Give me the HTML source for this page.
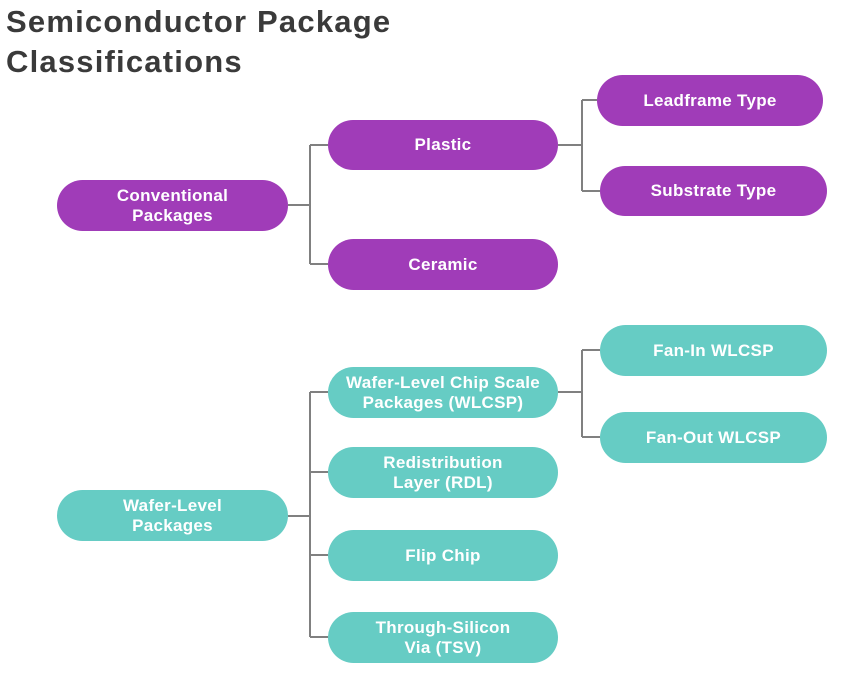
<!DOCTYPE html>
<html><head><meta charset="utf-8"><style>
body{margin:0;width:862px;height:683px;background:#fff;position:relative;overflow:hidden;font-family:"Liberation Sans",sans-serif}
.t{position:absolute;left:6px;top:2px;font-size:31px;font-weight:bold;color:#3a3a3a;line-height:40px;letter-spacing:1.2px}
.n{position:absolute;border-radius:26px;color:#fff;font-weight:bold;font-size:17px;line-height:20px;display:flex;align-items:center;justify-content:center;text-align:center;letter-spacing:0.3px}
.p{background:#a03cb8}.g{background:#66ccc4}
svg{position:absolute;left:0;top:0}
</style></head><body>
<div class="t">Semiconductor Package<br>Classifications</div>
<svg width="862" height="683"><g stroke="#808080" stroke-width="2" fill="none">
<path d="M288 205H310M310 145V264M310 145H328M310 264H328"/>
<path d="M558 145H582M582 100V191M582 100H597M582 191H600"/>
<path d="M288 516H310M310 392V637M310 392H328M310 472H328M310 555H328M310 637H328"/>
<path d="M558 392H582M582 350V437M582 350H600M582 437H600"/>
</g></svg>
<div class="n p" style="left:57px;top:180px;width:231px;height:51px">Conventional<br>Packages</div>
<div class="n p" style="left:328px;top:120px;width:230px;height:50px">Plastic</div>
<div class="n p" style="left:328px;top:239px;width:230px;height:51px">Ceramic</div>
<div class="n p" style="left:597px;top:75px;width:226px;height:51px">Leadframe Type</div>
<div class="n p" style="left:600px;top:166px;width:227px;height:50px">Substrate Type</div>
<div class="n g" style="left:600px;top:325px;width:227px;height:51px">Fan-In WLCSP</div>
<div class="n g" style="left:600px;top:412px;width:227px;height:51px">Fan-Out WLCSP</div>
<div class="n g" style="left:328px;top:367px;width:230px;height:51px">Wafer-Level Chip Scale<br>Packages (WLCSP)</div>
<div class="n g" style="left:328px;top:447px;width:230px;height:51px">Redistribution<br>Layer (RDL)</div>
<div class="n g" style="left:328px;top:530px;width:230px;height:51px">Flip Chip</div>
<div class="n g" style="left:328px;top:612px;width:230px;height:51px">Through-Silicon<br>Via (TSV)</div>
<div class="n g" style="left:57px;top:490px;width:231px;height:51px">Wafer-Level<br>Packages</div>
</body></html>
